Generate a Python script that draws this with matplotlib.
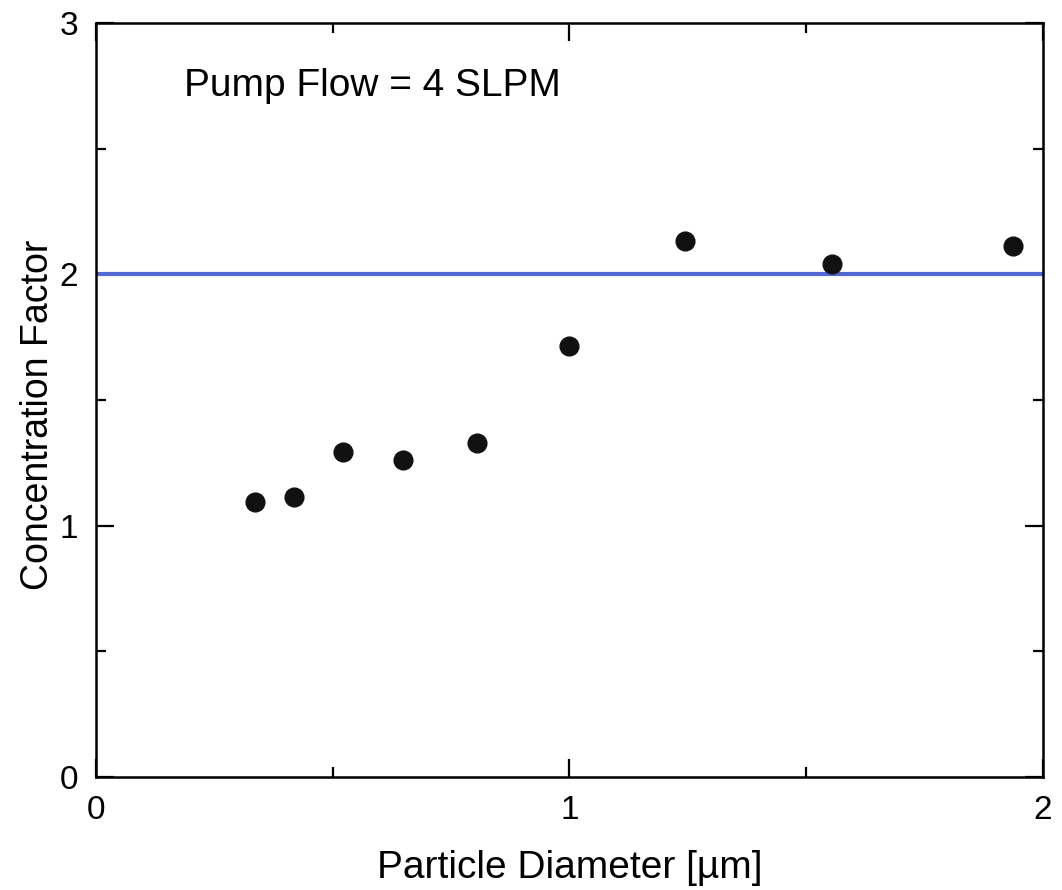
import matplotlib
matplotlib.use("Agg")
import matplotlib.pyplot as plt
from matplotlib.ticker import MultipleLocator

plt.rcParams['font.family'] = ['Liberation Sans', 'DejaVu Sans']

diameter_um = [0.335, 0.418, 0.521, 0.648, 0.804, 1.0, 1.243, 1.555, 1.937]
conc_factor = [1.096, 1.116, 1.295, 1.263, 1.331, 1.717, 2.131, 2.040, 2.112]
ideal_factor = 2.0
annotation = "Pump Flow = 4 SLPM"

fig = plt.figure(figsize=(10.62, 8.9), dpi=100)
ax = fig.add_axes([0.0904, 0.127, 0.8917, 0.847])

ax.axhline(ideal_factor, color='#5468d4', lw=3.0, zorder=2)
ax.plot(diameter_um, conc_factor, 'o', color='#111111', ms=13.5, zorder=3)

ax.set_xlim(0, 2)
ax.set_ylim(0, 3)
ax.xaxis.set_major_locator(MultipleLocator(1))
ax.xaxis.set_minor_locator(MultipleLocator(0.5))
ax.yaxis.set_major_locator(MultipleLocator(1))
ax.yaxis.set_minor_locator(MultipleLocator(0.5))
ax.tick_params(which='both', direction='in', top=True, right=True, width=1.6, labelsize=24)
ax.tick_params(which='major', length=13, pad=13)
ax.tick_params(which='minor', length=7)
for s in ax.spines.values():
    s.set_linewidth(1.8)

ax.set_xlabel("Particle Diameter [µm]", fontsize=28, labelpad=17)
ax.set_ylabel("Concentration Factor", fontsize=27)
ax.yaxis.set_label_coords(-0.042, 0.48)
ax.text(0.186, 2.75, annotation, fontsize=28, va='center', ha='left')

fig.savefig("out.png", dpi=100)
